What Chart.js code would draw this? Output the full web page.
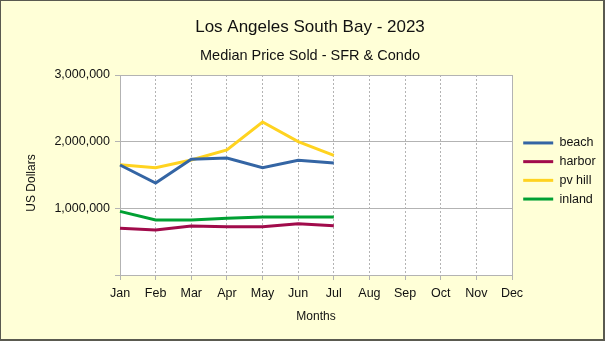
<!DOCTYPE html>
<html>
<head>
<meta charset="utf-8">
<script src="https://cdn.jsdelivr.net/npm/chart.js@4.4.0/dist/chart.umd.min.js"></script>
<style>
  html, body { margin: 0; padding: 0; background: #ffffd7; }
  #wrap { width: 605px; height: 341px; }
</style>
</head>
<body>
<div id="wrap"><canvas id="myChart" width="605" height="341"></canvas></div>
<script>
const months = ["Jan", "Feb", "Mar", "Apr", "May", "Jun", "Jul", "Aug", "Sep", "Oct", "Nov", "Dec"];
const beach = [1650000, 1380000, 1735000, 1755000, 1610000, 1720000, 1680000];
const harbor = [700000, 675000, 735000, 725000, 725000, 770000, 740000];
const pvHill = [1655000, 1610000, 1725000, 1875000, 2295000, 2000000, 1795000];
const inland = [955000, 825000, 825000, 850000, 870000, 870000, 870000];
const yTicks = [0, 1000000, 2000000, 3000000];

const gridGrey = "#b3b3b3";
const textCol = "#111111";

// page background, frame, white plot area and a few layout nudges
const backdrop = {
  id: "backdrop",
  beforeLayout(chart) {
    const lg = chart.legend;
    if (lg && !lg._fixed) {
      const fit = lg.fit;
      lg.fit = function () {
        fit.call(this);
        this.width = 93; // plot ends at x=512
      };
      lg._fixed = true;
    }
  },
  afterLayout(chart) {
    chart.boxes.forEach((b) => {
      if (b.position === "top") {
        b.left = 15;
        b.right = 605;
        b.width = 590;
      }
    });
    const lg = chart.legend;
    lg.left += 5;
    lg.top -= 4;
    lg.bottom -= 4;
    const y = chart.scales.y;
    if (!y._fixed) {
      const drawTitle = y.drawTitle;
      y.drawTitle = function () {
        const t = this.top;
        this.top += 16;
        drawTitle.call(this);
        this.top = t;
      };
      y._fixed = true;
    }
  },
  beforeDraw(chart) {
    const c = chart.ctx;
    const a = chart.chartArea;
    c.save();
    c.fillStyle = "#ffffd7";
    c.fillRect(0, 0, chart.width, chart.height);
    c.fillStyle = "#ffffff";
    c.fillRect(a.left, a.top, a.right - a.left, a.bottom - a.top);
    c.restore();
  },
  afterDraw(chart) {
    const c = chart.ctx;
    const a = chart.chartArea;
    c.save();
    c.strokeStyle = gridGrey;
    c.lineWidth = 1;
    c.beginPath();
    c.moveTo(Math.round(a.right) + 0.5, a.top);
    c.lineTo(Math.round(a.right) + 0.5, a.bottom);
    c.stroke();
    c.strokeStyle = "#5a5a50";
    c.lineWidth = 1;
    c.strokeRect(0.5, 0.5, chart.width - 1, chart.height - 1);
    c.lineWidth = 2;
    c.beginPath();
    c.moveTo(chart.width - 1, 0);
    c.lineTo(chart.width - 1, chart.height - 1);
    c.lineTo(0, chart.height - 1);
    c.stroke();
    c.restore();
  }
};

Chart.defaults.font.family = "'Liberation Sans', Arial, sans-serif";
Chart.defaults.color = textCol;

function series(label, data, color) {
  return {
    label: label,
    data: data,
    borderColor: color,
    backgroundColor: color,
    borderWidth: 3,
    pointRadius: 0,
    tension: 0,
    fill: false
  };
}

const ctx = document.getElementById("myChart").getContext("2d");
const myChart = new Chart(ctx, {
  type: "line",
  data: {
    labels: months,
    datasets: [
      series("beach", beach, "#3465a4"),
      series("harbor", harbor, "#a10b4b"),
      series("pv hill", pvHill, "#ffd320"),
      series("inland", inland, "#00a033")
    ]
  },
  options: {
    responsive: false,
    animation: false,
    layout: { padding: 0 },
    plugins: {
      title: {
        display: true,
        text: "Los Angeles South Bay - 2023",
        font: { size: 17, weight: "normal" },
        color: textCol,
        padding: { top: 16.8, bottom: 5 }
      },
      subtitle: {
        display: true,
        text: "Median Price Sold - SFR & Condo",
        font: { size: 14.5, weight: "normal" },
        color: textCol,
        padding: { top: 4.6, bottom: 10.8 }
      },
      legend: {
        position: "right",
        fullSize: false,
        labels: {
          boxWidth: 30,
          boxHeight: 3,
          padding: 6.2,
          font: { size: 12.5 },
          color: textCol,
          generateLabels(chart) {
            return Chart.defaults.plugins.legend.labels.generateLabels(chart).map((l) => {
              l.lineWidth = 0;
              return l;
            });
          }
        }
      },
      tooltip: { enabled: false }
    },
    scales: {
      x: {
        offset: false,
        grid: {
          color: gridGrey,
          tickLength: 5,
          tickBorderDash: [],
          tickColor: gridGrey
        },
        border: { color: gridGrey, dash: [2, 2] },
        ticks: { font: { size: 12.5 }, color: textCol, padding: 6, maxRotation: 0, autoSkip: false },
        title: { display: true, text: "Months", font: { size: 12 }, color: textCol, padding: { top: 4, bottom: 17 } },
        afterFit(scale) { scale.height = 66; }
      },
      y: {
        min: 0,
        max: 3000000,
        afterBuildTicks(scale) { scale.ticks = yTicks.map((v) => ({ value: v })); },
        grid: { color: gridGrey, tickLength: 5, tickColor: gridGrey },
        border: { color: gridGrey },
        ticks: {
          font: { size: 12.5 },
          color: textCol,
          padding: 5,
          callback: (v) => (v === 0 ? "" : v.toLocaleString("en-US"))
        },
        title: { display: true, text: "US Dollars", font: { size: 12 }, color: textCol, padding: { top: 24, bottom: 0 } },
        afterFit(scale) { scale.width = 120; }
      }
    }
  },
  plugins: [backdrop]
});
</script>
</body>
</html>
